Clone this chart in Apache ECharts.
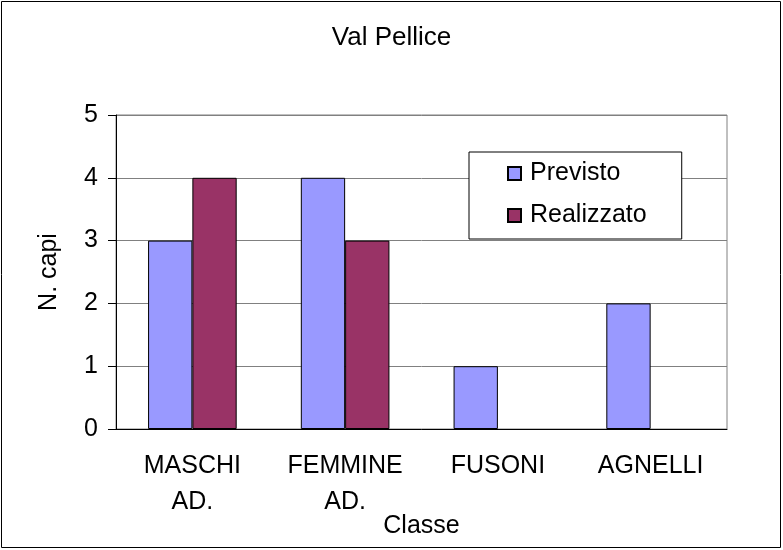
<!DOCTYPE html>
<html>
<head>
<meta charset="utf-8">
<script src="https://cdn.jsdelivr.net/npm/echarts@6/dist/echarts.min.js"></script>
<style>
    html, body { margin: 0; padding: 0; background: #fff; }
    #chart { width: 783px; height: 550px; }
</style>
</head>
<body>
<div id="chart"></div>
<script>
const categories = ["MASCHI\nAD.", "FEMMINE\nAD.", "FUSONI", "AGNELLI"];
const previsto = [3, 4, 1, 2];
const realizzato = [4, 3, null, null];
const yTicks = [0, 1, 2, 3, 4, 5];

const FONT = "Liberation Sans";

/* ===========================
   Chart
=========================== */

const chart = echarts.init(document.getElementById("chart"));

chart.setOption({

    animation: false,

    textStyle: {
        fontFamily: FONT,
        color: "#000"
    },

    title: {
        text: "Val Pellice",
        left: "center",
        top: 20,
        textStyle: {
            fontFamily: FONT,
            fontSize: 26,
            fontWeight: "normal",
            color: "#000"
        }
    },

    legend: {
        orient: "vertical",
        left: 469,
        top: 152,
        padding: [9, 35, 11, 38],
        itemWidth: 13,
        itemHeight: 13,
        itemGap: 17,
        icon: "rect",
        borderColor: "#000",
        borderWidth: 1,
        backgroundColor: "#fff",
        textStyle: {
            fontFamily: FONT,
            fontSize: 25,
            lineHeight: 25,
            padding: [0, 0, 0, 4],
            color: "#000"
        },
        data: ["Previsto", "Realizzato"]
    },

    grid: {
        left: 116,
        right: 56,
        top: 115,
        bottom: 121,
        containLabel: false,
        outerBoundsMode: "none",
        show: true,
        borderColor: "#808080",
        borderWidth: 1
    },

    xAxis: {
        type: "category",
        data: categories,
        name: "Classe",
        nameLocation: "middle",
        nameGap: 85,
        nameMoveOverlap: false,
        nameTextStyle: {
            fontFamily: FONT,
            fontSize: 25,
            color: "#000"
        },
        axisLine: {
            lineStyle: { color: "#000", width: 1 }
        },
        axisTick: {
            length: 8,
            lineStyle: { color: "#000" }
        },
        axisLabel: {
            fontFamily: FONT,
            fontSize: 25,
            lineHeight: 36,
            margin: 19,
            color: "#000",
            interval: 0
        }
    },

    yAxis: {
        type: "value",
        min: yTicks[0],
        max: yTicks[yTicks.length - 1],
        interval: 1,
        name: "N. capi",
        nameLocation: "middle",
        nameGap: 54,
        nameRotate: 90,
        nameTextStyle: {
            fontFamily: FONT,
            fontSize: 25,
            color: "#000"
        },
        axisLine: {
            show: true,
            lineStyle: { color: "#000", width: 1 }
        },
        axisTick: {
            show: true,
            length: 8,
            lineStyle: { color: "#000" }
        },
        axisLabel: {
            fontFamily: FONT,
            fontSize: 25,
            margin: 18,
            color: "#000"
        },
        splitLine: {
            lineStyle: { color: "#808080", width: 1 }
        }
    },

    series: [
        {
            name: "Previsto",
            type: "bar",
            data: previsto,
            barGap: "0%",
            barCategoryGap: "42%",
            itemStyle: {
                color: "#9999ff",
                borderColor: "#000",
                borderWidth: 1
            }
        },
        {
            name: "Realizzato",
            type: "bar",
            data: realizzato,
            itemStyle: {
                color: "#993366",
                borderColor: "#000",
                borderWidth: 1
            }
        }
    ],

    graphic: [{
        type: "rect",
        shape: { x: 1.5, y: 1.5, width: 779, height: 546 },
        style: { fill: null, stroke: "#000", lineWidth: 1 },
        silent: true
    }]

});
</script>
</body>
</html>
